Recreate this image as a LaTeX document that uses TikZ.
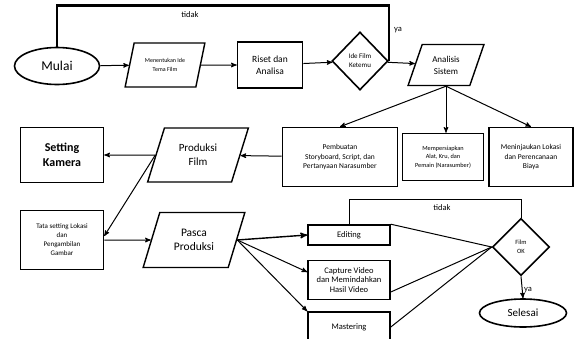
\documentclass[tikz,border=0pt]{standalone}
\usepackage{fontspec}
\setmainfont{Carlito}
\usetikzlibrary{shapes, arrows, positioning, calc}

\newcommand{\fsz}[1]{\fontsize{#1}{#1}\selectfont}

\begin{document}
\begin{tikzpicture}[x=1pt, y=-1pt, >=stealth', line width=1pt,
    term/.style={draw, ellipse, line width=1.6pt, inner sep=0pt},
    box/.style={draw, rectangle, line width=1.6pt, align=center, inner sep=1pt},
    io/.style={draw, trapezium, trapezium left angle=66, trapezium right angle=114, trapezium stretches=true, line width=1.4pt, align=center, inner sep=0pt},
    decide/.style={draw, diamond, aspect=1, line width=1.6pt, align=center, inner sep=0pt}]
    \useasboundingbox (0,0) rectangle (576,338);

    % Nodes
    \node (mulai) [term, minimum width=85, minimum height=37, font=\fsz{13.5}] at (57,66) {Mulai};
    \node (ide) [io, minimum width=80, minimum height=44, font=\fsz{6}] at (165,65) {Menentukan Ide\\[3pt]Tema Film};
    \node (riset) [box, minimum width=65, minimum height=46, font=\fsz{9.5}] at (270,65) {Riset dan\\[3pt]Analisa};
    \node (ketemu) [decide, minimum width=56, minimum height=58, font=\fsz{7}] at (360,61) {Ide Film\\[2pt]Ketemu};
    \node (analisis) [io, minimum width=76, minimum height=41, font=\fsz{9}] at (446,65) {Analisis\\[3pt]Sistem};

    \node (storyboard) [box, minimum width=115, minimum height=59, font=\fsz{7.5}] at (340,157) {Pembuatan\\[2pt]Storyboard, Script, dan\\[2pt]Pertanyaan Narasumber};
    \node (alat) [box, minimum width=81, minimum height=47, font=\fsz{6.3}] at (443,157) {Mempersiapkan\\[2pt]Alat, Kru, dan\\[2pt]Pemain (Narasumber)};
    \node (lokasi) [box, minimum width=84, minimum height=59, font=\fsz{7.5}] at (531,157) {Meninjaukan Lokasi\\[2pt]dan Perencanaan\\[2pt]Biaya};

    \node (produksi) [io, minimum width=101, minimum height=54, font=\fsz{11}] at (198,155) {Produksi\\[3pt]Film};
    \node (kamera) [box, minimum width=83, minimum height=55, font=\bfseries\fsz{12}] at (62,155) {Setting\\[3pt]Kamera};
    \node (tata) [box, minimum width=83, minimum height=59, font=\fsz{7}] at (62,240) {Tata setting Lokasi\\[2pt]dan\\[2pt]Pengambilan\\[2pt]Gambar};
    \node (pasca) [io, minimum width=102, minimum height=55, font=\fsz{11.5}] at (194,240) {Pasca\\[3pt]Produksi};

    \node (editing) [box, minimum width=82, minimum height=20, font=\fsz{8.5}] at (349,235) {Editing};
    \node (capture) [box, minimum width=82, minimum height=39, font=\fsz{8.5}] at (349,280) {Capture Video\\[1pt]dan Memindahkan\\[1pt]Hasil Video};
    \node (mastering) [box, minimum width=82, minimum height=30, font=\fsz{8.5}] at (349,327) {Mastering};
    \node (filmok) [decide, minimum width=57, minimum height=57, font=\fsz{6.5}] at (521,247) {Film\\[2pt]OK};
    \node (selesai) [term, minimum width=87, minimum height=28, font=\fsz{11}] at (523,313) {Selesai};

    % Labels
    \node (tidaka) [font=\fsz{8.5}] at (190,15) {tidak};
    \node (yaa) [font=\fsz{8.5}] at (398,30) {ya};
    \node (tidakb) [font=\fsz{8.5}] at (442,208) {tidak};
    \node (yab) [font=\fsz{8.5}] at (528,290) {ya};

    % Arrows
    \draw[->] (mulai) -- (ide);
    \draw[->] (ide) -- (riset);
    \draw[->] (riset) -- (ketemu);
    \draw[->] (ketemu) -- (analisis);
    \draw[line width=2.6pt] (mulai.north) -- ++(0,-41) -| (ketemu.east);
    \draw[->] (analisis.south) -- (storyboard.north);
    \draw[->] (analisis.south) -- (analisis.south |- alat.north);
    \draw[->] (analisis.south) -- (lokasi.north);
    \draw[->] (storyboard) -- (produksi);
    \draw[->] (produksi) -- (kamera);
    \draw[->] (produksi.west) -- ([yshift=4pt]tata.east);
    \draw[->] (tata) -- (pasca);
    \draw[->, line width=1.4pt] (pasca.east) -- (editing.west);
    \draw[->] (pasca.east) -- ([yshift=8pt]capture.west);
    \draw[->] (pasca.east) -- (mastering.north west);
    \draw (editing.north east) -- (filmok.west);
    \draw ([yshift=-12pt]capture.east) -- (filmok.west);
    \draw (mastering.east) -- (filmok.west);
    \draw (filmok.north) -- ++(0,-18) -| (editing.north);
    \draw[->] (filmok.south) -- (selesai.north);
\end{tikzpicture}
\end{document}
